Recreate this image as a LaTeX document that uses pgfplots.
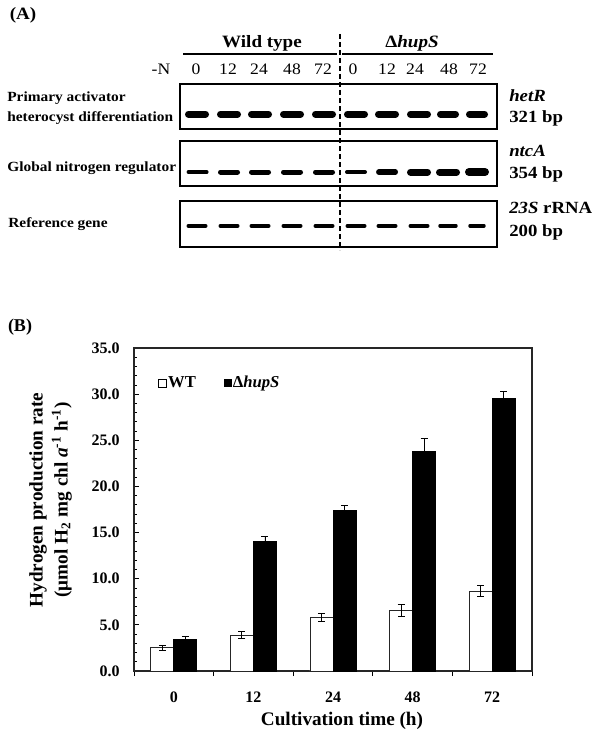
\documentclass[border=0pt]{standalone}
\usepackage{fontspec}
\setmainfont{Liberation Serif}
\usepackage{pgfplots}
\pgfplotsset{compat=1.18}
\usepackage{pgfplotstable}

% Panel B data: hydrogen production rate
\pgfplotstableread{
x y e
0 2.52 0.27
1 3.87 0.39
2 5.78 0.43
3 6.57 0.65
4 8.67 0.60
}\wtdata
\pgfplotstableread{
x y e
0 3.43 0.33
1 14.00 0.60
2 17.37 0.60
3 23.76 1.40
4 29.55 0.75
}\hupdata

\newcommand\band[4]{\addplot[black, line width=#4, line cap=round, forget plot] coordinates {(#1,#3) (#2,#3)};}

\pgfplotsset{gel/.style={scale only axis, width=237.75pt, xmin=180, xmax=497, ymin=0, ymax=1,
  xtick=\empty, ytick=\empty, axis line style={line width=1.5pt}, clip=true}}

\begin{document}
\begin{tikzpicture}[x=0.75pt,y=-0.75pt]
\path[use as bounding box] (0,0) rectangle (596,735);

% ---------------- Panel A ----------------
\tikzset{pa/.style={xscale=1.1, inner sep=0pt}}
\node[pa, font=\bfseries\fontsize{13}{15}\selectfont] at (23,15) {(A)};
\node[pa, font=\bfseries\fontsize{13}{15}\selectfont] at (262,43) {Wild type};
\node[pa, font=\bfseries\fontsize{13}{15}\selectfont] at (412,43) {Δ\textit{hupS}};
\draw[line width=1.5pt] (183,54) -- (337,54);
\draw[line width=1.5pt] (342,54) -- (493,54);
\begin{scope}[every node/.style={pa, anchor=base, font=\fontsize{12}{14}\selectfont}]
\node at (161,74.5) {-N};
\node at (196,74.5) {0};
\node at (228,74.5) {12};
\node at (259,74.5) {24};
\node at (292,74.5) {48};
\node at (323,74.5) {72};
\node at (353,74.5) {0};
\node at (387,74.5) {12};
\node at (415,74.5) {24};
\node at (449,74.5) {48};
\node at (478,74.5) {72};
\end{scope}
\begin{scope}[every node/.style={pa, anchor=base west, font=\bfseries\fontsize{10.5}{12}\selectfont}]
\node at (7,102) {Primary activator};
\node at (7,121) {heterocyst differentiation};
\node at (7,171) {Global nitrogen regulator};
\node at (8,227) {Reference gene};
\end{scope}
\begin{scope}[every node/.style={pa, anchor=base west, font=\bfseries\fontsize{12.8}{14}\selectfont}]
\node at (509,101.5) {\textit{hetR}};
\node at (509,122.5) {321 bp};
\node at (509,156.5) {\textit{ntcA}};
\node at (509,178.5) {354 bp};
\node at (509,213.5) {\textit{23S} rRNA};
\node at (509,236.5) {200 bp};
\end{scope}

% gel 1: hetR
\begin{axis}[gel, at={(135pt,-96.75pt)}, anchor=south west, height=33.75pt]
\band{188.5}{205.5}{0.33}{5.25pt}
\band{220.5}{237.5}{0.33}{5.25pt}
\band{251.5}{268.5}{0.33}{5.25pt}
\band{283.5}{300.5}{0.33}{5.25pt}
\band{315.5}{332.5}{0.33}{5.25pt}
\band{347.5}{364.5}{0.33}{5.25pt}
\band{378.5}{395.5}{0.33}{5.25pt}
\band{410.5}{427.5}{0.33}{5.25pt}
\band{440.5}{455.5}{0.33}{5.25pt}
\band{469.5}{484.5}{0.33}{5.25pt}
\end{axis}
% gel 2: ntcA
\begin{axis}[gel, at={(135pt,-139.5pt)}, anchor=south west, height=33.75pt]
\band{188.3}{206.8}{0.31}{2.6pt}
\band{220.5}{237.5}{0.31}{3.75pt}
\band{251.5}{268.5}{0.31}{3.75pt}
\band{283.5}{300.5}{0.31}{3.75pt}
\band{315.5}{332.5}{0.31}{3.75pt}
\band{347}{365}{0.31}{3pt}
\band{378.8}{395.3}{0.31}{4.1pt}
\band{410.5}{427.5}{0.31}{5.25pt}
\band{439.5}{456.5}{0.31}{5.25pt}
\band{469}{485}{0.31}{6pt}
\end{axis}
% gel 3: 23S rRNA
\begin{axis}[gel, at={(135pt,-185.25pt)}, anchor=south west, height=34.5pt]
\band{188.5}{205.5}{0.46}{3pt}
\band{220.5}{237.5}{0.46}{3pt}
\band{251.5}{268.5}{0.46}{3pt}
\band{283.5}{300.5}{0.46}{3pt}
\band{315.5}{332.5}{0.46}{3pt}
\band{347.5}{364.5}{0.46}{3pt}
\band{378.5}{395.5}{0.46}{3pt}
\band{410.5}{427.5}{0.46}{3pt}
\band{440}{456}{0.46}{2.6pt}
\band{470}{484}{0.46}{2.6pt}
\end{axis}
\draw[line width=0.9pt, dash pattern=on 3.75pt off 2.25pt] (340,34) -- (340,250);

% ---------------- Panel B ----------------
\node[inner sep=0pt, font=\bfseries\fontsize{13.5}{15}\selectfont] at (20,327) {(B)};
\node[rotate=90, align=center, inner sep=0pt, font=\bfseries\fontsize{14.4}{18.75}\selectfont] at (50.5,500)
  {Hydrogen production rate\\(μmol H\textsubscript{2} mg chl \textit{a}\textsuperscript{-1} h\textsuperscript{-1})};
\node[inner sep=0pt, font=\bfseries\fontsize{14.4}{16}\selectfont] at (342,721) {Cultivation time (h)};

\begin{axis}[at={(100.5pt,-503.25pt)}, anchor=south west, scale only axis,
  width=298.5pt, height=242.25pt,
  xmin=-0.5, xmax=4.5, ymin=0, ymax=35,
  ybar=0pt, bar width=0.29,
  axis line style={black!85, line width=0.8pt},
  tick align=inside, tick pos=left,
  major tick length=3.75pt, minor tick length=2.5pt,
  tick style={black, line width=0.6pt},
  xtick={-0.5,0.5,1.5,2.5,3.5,4.5}, xticklabels={},
  major x tick style={yshift=-3.75pt},
  extra x ticks={0,1,2,3,4}, extra x tick labels={0,12,24,48,72},
  extra x tick style={major tick length=0pt, tick style={draw=none}},
  xticklabel style={anchor=center, inner sep=0pt, yshift=-19.5pt, font=\bfseries\fontsize{12}{14}\selectfont},
  ytick={0,5,...,35}, minor y tick num=4,
  yticklabel style={anchor=east, inner sep=0pt, xshift=-10.5pt, font=\bfseries\fontsize{12}{14}\selectfont,
    /pgf/number format/fixed, /pgf/number format/fixed zerofill, /pgf/number format/precision=1,
    /pgf/number format/assume math mode=true},
  legend style={at={(rel axis cs:0.06,0.892)}, anchor=west, draw=none, fill=none, inner sep=0pt,
    legend columns=2, font=\bfseries\fontsize{12.5}{14}\selectfont,
    nodes={inner sep=1pt},
    /tikz/every even column/.append style={column sep=20pt}},
  error bars/error bar style={black, line width=0.6pt},
  error bars/error mark options={rotate=90, mark size=2.6pt, line width=0.6pt, black},
]
\addplot[fill=white, draw=black!85, line width=0.6pt,
  legend image code/.code={\draw[fill=white, draw=black, line width=0.5pt] (0pt,-3pt) rectangle (6pt,3pt);},
  error bars/.cd, y dir=both, y explicit]
  table[x=x, y=y, y error=e] {\wtdata};
\addplot[fill=black, draw=black, line width=0.6pt,
  legend image code/.code={\draw[fill=black, draw=black, line width=0.5pt] (0pt,-2.6pt) rectangle (5.2pt,2.6pt);},
  error bars/.cd, y dir=both, y explicit]
  table[x=x, y=y, y error=e] {\hupdata};
\legend{WT, Δ\textit{hupS}}
\end{axis}
\end{tikzpicture}
\end{document}
